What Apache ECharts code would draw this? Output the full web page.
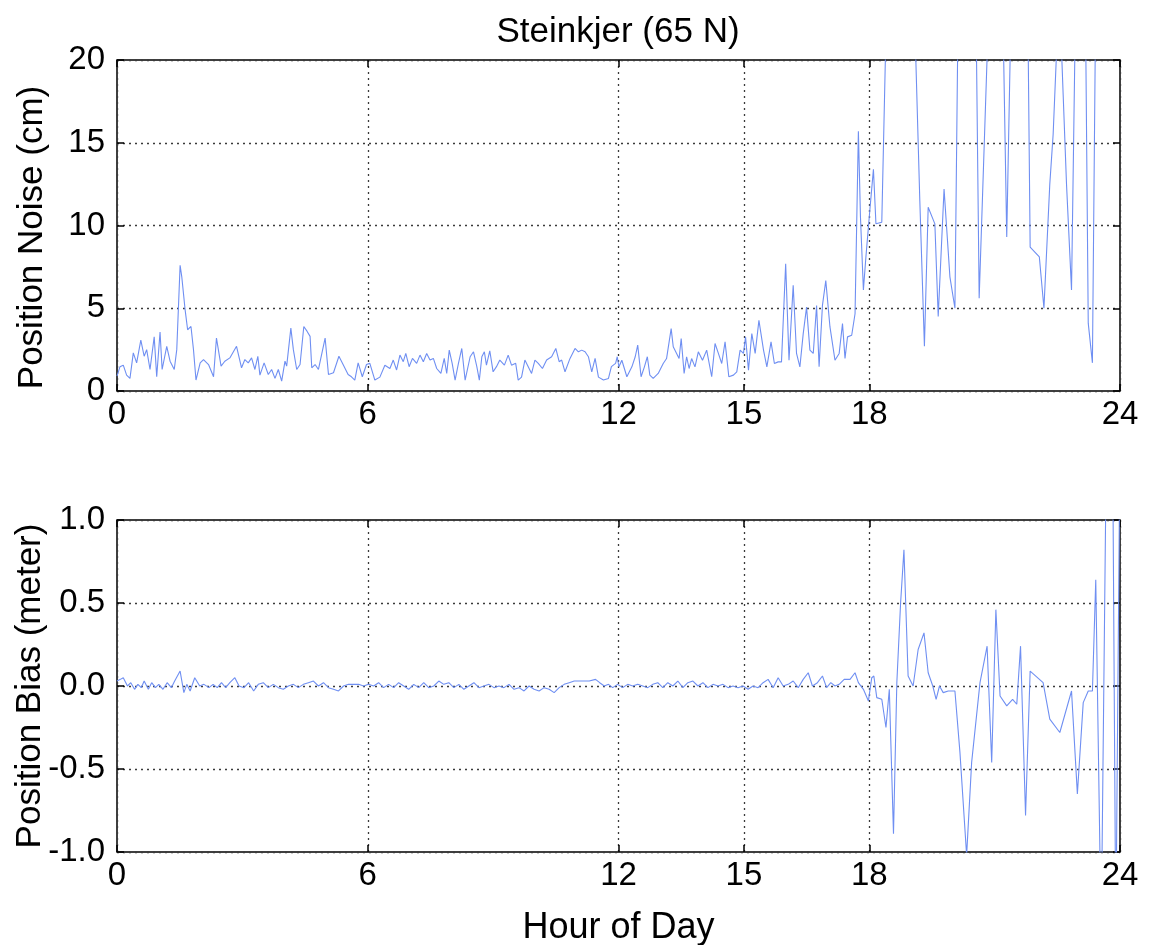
<!DOCTYPE html>
<html><head><meta charset="utf-8">
<script src="https://cdn.jsdelivr.net/npm/echarts@6/dist/echarts.min.js"></script>
<style>html,body{margin:0;padding:0;background:#fff}#c{width:1150px;height:945px}</style>
</head><body><div id="c"></div>
<script>
// ---- data (hours of day, position noise in cm) ----
const noiseHour = [0.00,0.07,0.15,0.23,0.31,0.39,0.47,0.57,0.65,0.71,0.79,0.89,0.95,1.03,1.08,1.19,1.27,1.37,1.43,1.51,1.55,1.63,1.69,1.77,1.83,1.89,1.99,2.07,2.19,2.31,2.38,2.49,2.58,2.70,2.86,2.98,3.06,3.14,3.22,3.30,3.37,3.42,3.52,3.62,3.70,3.78,3.86,3.94,4.02,4.06,4.16,4.22,4.30,4.38,4.47,4.55,4.62,4.66,4.74,4.82,4.98,5.06,5.18,5.31,5.41,5.53,5.61,5.69,5.77,5.87,5.97,
6.05,6.17,6.29,6.41,6.53,6.61,6.69,6.77,6.85,6.91,6.99,7.07,7.17,7.25,7.33,7.41,7.49,7.57,7.65,7.75,7.83,7.89,7.95,8.02,8.09,8.17,8.25,8.33,8.45,8.53,8.61,8.67,8.73,8.79,8.84,8.92,9.00,9.08,9.16,9.27,9.36,9.44,9.54,9.60,9.68,9.76,9.84,9.92,10.00,10.08,10.18,10.28,10.40,10.50,10.58,10.64,10.72,10.84,10.96,11.04,11.12,11.20,11.28,11.36,11.44,11.52,11.64,11.76,11.83,11.93,
11.97,12.01,12.08,12.20,12.32,12.40,12.46,12.54,12.62,12.69,12.75,12.83,12.95,13.07,13.15,13.26,13.31,13.39,13.45,13.50,13.57,13.63,13.69,13.75,13.83,13.91,14.01,14.11,14.23,14.31,14.39,14.47,14.55,14.64,14.75,14.83,14.91,14.99,15.04,15.11,15.19,15.27,15.36,15.47,15.55,15.65,15.73,15.82,15.90,16.00,16.08,16.18,16.26,16.34,16.42,16.50,16.58,16.66,16.74,16.80,16.88,16.96,17.06,17.18,17.28,
17.36,17.42,17.48,17.58,17.66,17.74,17.79,17.86,17.92,18.02,18.10,18.16,18.30,18.42,19.07,19.21,19.32,19.41,19.57,19.65,19.79,19.93,20.05,20.13,20.55,20.63,20.87,21.19,21.29,21.40,21.79,21.85,22.07,22.18,22.32,22.40,22.54,22.58,22.64,22.72,22.84,22.94,23.17,23.24,23.34,23.42,24.00];
const noiseCm = [0.9,1.46,1.56,0.96,0.76,2.3,1.7,3.07,2.1,2.5,1.3,3.27,0.86,3.57,1.3,2.7,1.8,1.3,2.5,7.6,6.9,4.9,3.7,3.9,2.5,0.66,1.7,1.9,1.6,0.86,3.2,1.5,1.8,2.0,2.7,1.4,1.9,1.7,2.0,1.3,2.1,0.96,1.7,1.0,1.3,0.76,1.3,0.6,1.8,1.5,3.8,2.5,1.3,1.6,3.9,3.6,3.3,1.4,1.6,1.3,3.2,1.0,1.1,2.1,1.6,1.0,0.86,0.66,1.7,0.86,1.6,
1.67,0.66,0.84,1.56,1.36,1.87,1.27,2.17,1.77,2.27,1.47,1.97,1.67,2.17,1.77,2.27,1.87,1.97,1.36,1.06,1.97,1.06,2.47,1.67,0.66,1.67,2.57,0.66,2.07,2.37,1.47,0.66,2.07,2.37,1.56,2.43,1.16,1.47,1.87,1.56,2.17,1.56,1.67,0.66,0.84,1.87,1.47,1.06,1.87,1.67,1.36,1.87,2.07,2.57,1.77,1.87,1.16,1.97,2.57,2.37,2.47,2.37,2.07,1.16,1.97,0.84,0.66,0.76,1.47,1.67,
2.07,1.46,1.86,0.86,1.46,2.07,2.77,0.86,1.46,2.07,0.96,0.76,1.06,1.66,1.96,3.77,2.67,2.27,1.96,3.17,1.06,2.07,1.36,1.96,1.46,2.37,1.86,2.47,0.86,2.87,2.27,1.66,2.97,0.86,0.96,1.16,2.47,2.27,3.27,1.26,3.47,2.27,4.27,2.47,1.46,2.97,1.66,1.76,1.76,7.69,1.86,6.39,2.27,1.46,3.47,5.07,2.47,2.27,5.17,1.46,5.17,6.67,3.87,1.86,2.27,
4.07,1.97,3.27,3.37,4.67,15.7,10.5,6.1,8.1,11.1,13.4,10.1,10.2,24,24,11.5,2.7,11.1,10.1,4.5,12.2,6.9,5.0,24,24,5.6,24,24,9.3,24,24,8.7,8.1,5.0,12.5,15.5,24,22,17.9,12.5,6.1,24,24,4.1,1.7,24,24];

// ---- data (hours of day, position bias in meters) ----
const biasHour = [0.00,0.08,0.15,0.25,0.33,0.42,0.50,0.58,0.65,0.75,0.83,0.92,1.00,1.10,1.20,1.30,1.38,1.51,1.60,1.67,1.75,1.86,1.98,2.08,2.20,2.30,2.40,2.50,2.60,2.70,2.82,2.92,3.04,3.15,3.27,3.38,3.50,3.62,3.74,3.86,3.98,4.10,4.22,4.34,4.46,4.58,4.70,4.82,4.94,5.06,5.18,5.30,5.42,5.54,5.66,5.78,5.90,
6.02,6.14,6.26,6.38,6.50,6.62,6.74,6.86,6.98,7.10,7.22,7.34,7.46,7.58,7.70,7.82,7.94,8.06,8.18,8.30,8.42,8.54,8.66,8.78,8.90,9.02,9.14,9.26,9.38,9.50,9.62,9.74,9.86,9.98,10.10,10.22,10.34,10.46,10.58,10.70,10.82,10.94,11.10,11.30,11.45,11.55,11.66,11.76,11.86,11.98,
12.10,12.22,12.34,12.46,12.58,12.70,12.82,12.94,13.06,13.18,13.30,13.42,13.54,13.66,13.78,13.90,14.02,14.14,14.26,14.38,14.50,14.62,14.74,14.86,14.98,15.10,15.22,15.34,15.46,15.58,15.70,15.82,15.94,16.06,16.18,16.30,16.42,16.54,16.64,16.76,16.88,16.98,17.08,17.18,17.28,17.40,
17.54,17.66,17.74,17.86,17.98,18.06,18.11,18.18,18.30,18.40,18.48,18.58,18.66,18.75,18.83,18.93,19.05,19.17,19.31,19.41,19.52,19.60,19.68,19.77,19.89,20.05,20.17,20.33,20.45,20.65,20.82,20.93,21.03,21.13,21.29,21.43,21.53,21.62,21.74,21.85,22.16,22.32,22.56,22.84,22.98,23.12,23.24,23.34,23.42,23.55,23.68,23.82,23.90,24.00];
const biasM = [0.03,0.04,0.05,0.00,0.02,-0.02,0.01,-0.01,0.03,-0.02,0.02,-0.01,0.01,-0.02,0.02,-0.01,0.03,0.09,-0.04,0.01,-0.03,0.05,0.00,0.01,-0.01,0.01,-0.01,0.02,-0.01,0.02,0.05,0.00,-0.01,0.02,-0.03,0.01,0.02,-0.01,0.01,-0.01,-0.02,0.00,0.01,-0.01,0.01,0.02,0.03,0.00,0.02,-0.01,-0.02,-0.03,0.00,0.01,0.01,0.01,0.00,
0.01,0.00,0.02,-0.01,0.01,-0.01,0.02,0.00,-0.02,0.01,-0.01,0.02,-0.01,0.00,0.03,0.01,0.02,-0.01,0.01,-0.02,0.00,0.02,-0.01,0.00,0.01,-0.01,0.00,-0.01,0.01,-0.02,-0.01,-0.03,0.00,-0.02,-0.03,-0.01,-0.02,-0.04,-0.01,0.01,0.02,0.03,0.03,0.03,0.04,0.02,0.00,0.01,-0.01,0.01,
-0.01,0.01,0.00,0.01,0.00,-0.01,0.01,0.02,-0.01,0.02,0.00,0.03,-0.01,0.02,0.03,0.00,0.02,-0.01,0.01,0.00,0.01,-0.01,0.00,-0.01,0.00,-0.02,0.00,-0.01,0.02,0.04,-0.01,0.05,0.00,0.01,0.03,-0.01,0.04,0.08,0.00,0.02,0.06,-0.01,0.02,0.00,0.01,0.04,
0.04,0.08,0.02,-0.02,-0.09,0.05,0.06,-0.07,-0.08,-0.25,-0.02,-0.89,0.02,0.50,0.82,0.06,0.00,0.22,0.32,0.08,0.00,-0.08,0.00,-0.04,-0.03,-0.03,-0.40,-1.02,-0.46,0.02,0.24,-0.46,0.46,-0.06,-0.12,-0.08,-0.11,0.24,-0.78,0.09,0.02,-0.20,-0.28,-0.03,-0.65,-0.10,-0.03,-0.03,0.64,-1.5,1.6,1.6,-1.5,1.5];

const xTicks = [0, 6, 12, 15, 18, 24];
const noiseRange = [0, 20, 5];
const biasRange = [-1, 1, 0.5];
const titleText = 'Steinkjer (65 N)';
const noiseName = 'Position Noise (cm)';
const biasName = 'Position Bias (meter)';
const xName = 'Hour of Day';

const FONT = "'Liberation Sans', Arial, Helvetica, sans-serif";
const GRID_LINE = {color: '#3a3a3a', type: [2, 4], width: 1.3};
const LINE_COLOR = '#6f8ff2';
const TICK_FS = 33;
const NAME_FS = 35;

function xAxis(gi, pos, withLabel, name) {
  return {
    type: 'value', gridIndex: gi, position: pos, min: 0, max: 24,
    axisLine: {show: false, onZero: false},
    axisTick: {show: true, inside: true, length: 7, customValues: xTicks, lineStyle: {color: '#000', width: 1.5}},
    axisLabel: {show: withLabel, customValues: xTicks, color: '#000', fontSize: TICK_FS, fontFamily: FONT, margin: 7},
    splitLine: {show: pos === 'bottom', customValues: xTicks, lineStyle: GRID_LINE},
    name: name || '', nameLocation: 'middle', nameGap: 58, nameMoveOverlap: false,
    nameTextStyle: {color: '#000', fontSize: 36, fontFamily: FONT}
  };
}
function yAxis(gi, pos, r, withLabel, name, fmt, gap, pad) {
  return {
    type: 'value', gridIndex: gi, position: pos, min: r[0], max: r[1], interval: r[2],
    axisLine: {show: false, onZero: false},
    axisTick: {show: true, inside: true, length: 7, lineStyle: {color: '#000', width: 1.5}},
    axisLabel: {show: withLabel, color: '#000', fontSize: TICK_FS, fontFamily: FONT, margin: 12, formatter: fmt},
    splitLine: {show: pos === 'left', lineStyle: GRID_LINE},
    name: name || '', nameLocation: 'middle', nameGap: gap || 66, nameMoveOverlap: false,
    nameTextStyle: {color: '#000', fontSize: NAME_FS, fontFamily: FONT, padding: pad || 0}
  };
}
const zip = (a, b) => a.map((v, i) => [v, b[i]]);

const chart = echarts.init(document.getElementById('c'), null, {renderer: 'canvas'});
chart.setOption({
  animation: false,
  backgroundColor: '#fff',
  title: {text: titleText, left: 613, top: 10, textAlign: 'center',
    textStyle: {fontSize: 35, fontWeight: 'normal', fontFamily: FONT, color: '#000'}},
  grid: [
    {left: 117, right: 30, top: 60, height: 331, show: true, borderColor: '#000', borderWidth: 1.5,
     backgroundColor: 'transparent', outerBoundsMode: 'none', containLabel: false},
    {left: 117, right: 30, top: 520, height: 332, show: true, borderColor: '#000', borderWidth: 1.5,
     backgroundColor: 'transparent', outerBoundsMode: 'none', containLabel: false}
  ],
  xAxis: [
    xAxis(0, 'bottom', true),
    xAxis(0, 'top', false),
    xAxis(1, 'bottom', true, xName),
    xAxis(1, 'top', false)
  ],
  yAxis: [
    yAxis(0, 'left', noiseRange, true, noiseName, v => String(v), 67, [0, 24, 0, 0]),
    yAxis(0, 'right', noiseRange, false),
    yAxis(1, 'left', biasRange, true, biasName, v => v.toFixed(1), 69),
    yAxis(1, 'right', biasRange, false)
  ],
  series: [
    {type: 'line', xAxisIndex: 0, yAxisIndex: 0, data: zip(noiseHour, noiseCm), showSymbol: false, clip: true,
     lineStyle: {color: LINE_COLOR, width: 1.1}, z: 3},
    {type: 'line', xAxisIndex: 2, yAxisIndex: 2, data: zip(biasHour, biasM), showSymbol: false, clip: true,
     lineStyle: {color: LINE_COLOR, width: 1.1}, z: 3}
  ]
});
</script>
</body></html>
